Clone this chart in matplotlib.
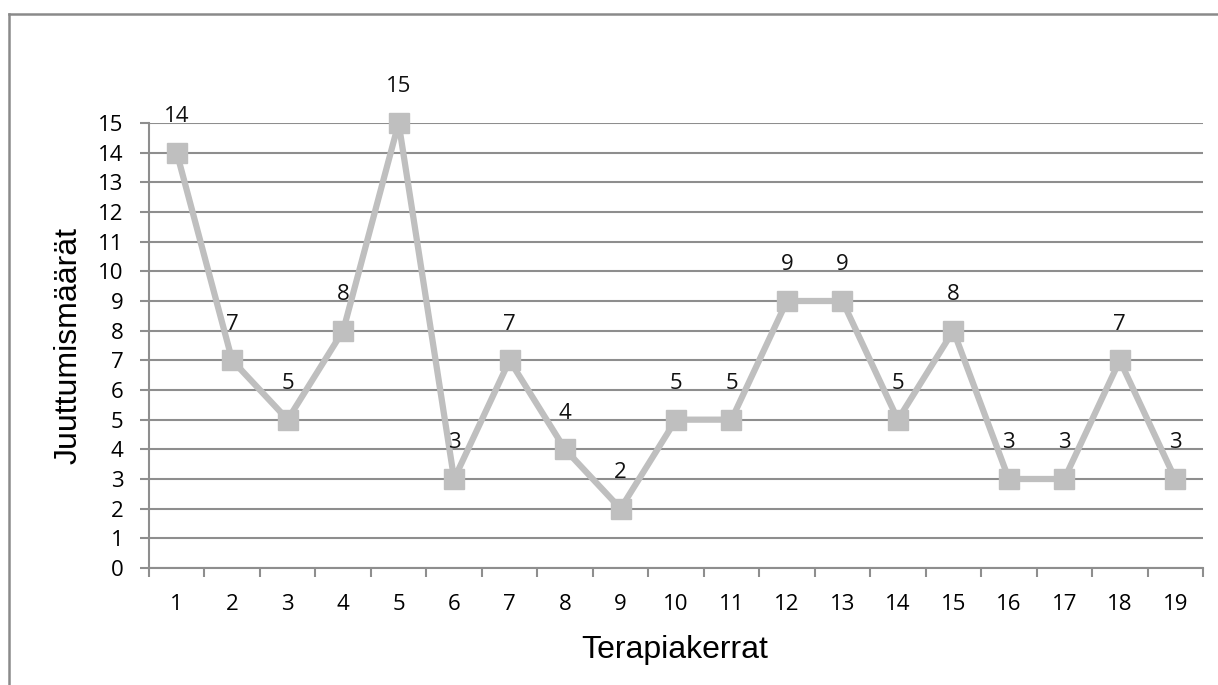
import matplotlib
matplotlib.use("Agg")
import matplotlib.pyplot as plt
from matplotlib.lines import Line2D

# ── Data ──────────────────────────────────────────────────────────────────────
sessions = [str(i) for i in range(1, 20)]
counts = [14, 7, 5, 8, 15, 3, 7, 4, 2, 5, 5, 9, 9, 5, 8, 3, 3, 7, 3]
y_ticks = list(range(0, 16))

grid_col = "#8e8e8e"
line_col = "#bfbfbf"
tick_font = "Open Sans"
title_font = "Liberation Sans"

fig = plt.figure(figsize=(12.18, 6.85), dpi=100)
ax = fig.add_axes([149 / 1218, 1 - 568 / 685, (1203 - 149) / 1218, (568 - 123) / 685])

x = list(range(len(sessions)))
ax.plot(x, counts, color=line_col, linewidth=4.5, marker="s", markersize=14,
        markerfacecolor=line_col, markeredgecolor=line_col, zorder=3, clip_on=False)

for xi, v in zip(x, counts):
    ax.annotate(str(v), (xi, v), xytext=(0, 36), textcoords="offset pixels",
                ha="center", va="center", fontsize=16, family=tick_font,
                color="#111111")

ax.set_xlim(-0.5, len(sessions) - 0.5)
ax.set_ylim(0, 15)
ax.set_yticks(y_ticks)
ax.set_yticklabels([str(t) for t in y_ticks], family=tick_font, fontsize=16)
ax.set_xticks(x)
ax.set_xticklabels(sessions, family=tick_font, fontsize=16)
ax.set_xticks([i - 0.5 for i in range(len(sessions) + 1)], minor=True)
ax.tick_params(axis="x", which="major", length=0, pad=19)
ax.tick_params(axis="x", which="minor", length=6.5, width=1.5, color=grid_col)
ax.tick_params(axis="y", length=6.5, width=1.5, color=grid_col, pad=12)

ax.grid(axis="y", color=grid_col, linewidth=1.5)
ax.set_axisbelow(True)
for side in ["top", "right"]:
    ax.spines[side].set_visible(False)
for side in ["left", "bottom"]:
    ax.spines[side].set_color(grid_col)
    ax.spines[side].set_linewidth(1.5)

fig.text(675 / 1218, 1 - 658 / 685, "Terapiakerrat", ha="center", va="baseline",
         fontsize=23, family=title_font)
fig.text(69 / 1218, 1 - 345 / 685, "Juuttumismäärät", ha="center", va="center",
         rotation=90, fontsize=23, family=title_font)

# outer chart frame (only left and top edges visible)
fig.add_artist(Line2D([8.5 / 1218, 8.5 / 1218], [0, 1 - 14 / 685],
                      transform=fig.transFigure, color="#8a8a8a", linewidth=1.8))
fig.add_artist(Line2D([8.5 / 1218, 1], [1 - 14 / 685, 1 - 14 / 685],
                      transform=fig.transFigure, color="#8a8a8a", linewidth=1.8))

fig.savefig("out.png", dpi=100)
